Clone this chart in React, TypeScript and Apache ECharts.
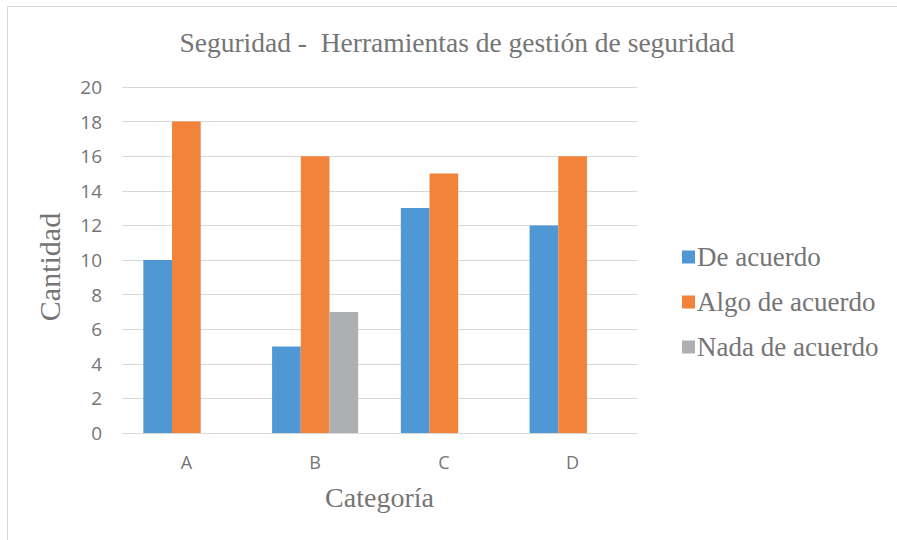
import React, { useEffect, useRef } from "react";
import * as echarts from "echarts";

const categories = ["A", "B", "C", "D"];
const seriesNames = ["De acuerdo", "Algo de acuerdo", "Nada de acuerdo"];
const deAcuerdo = [10, 5, 13, 12];
const algoDeAcuerdo = [18, 16, 15, 16];
const nadaDeAcuerdo = [0, 7, 0, 0];
const colors = ["#5098D5", "#F2833A", "#AEAFB3"];

const serif = "'Liberation Serif', 'Times New Roman', serif";
const sans = "'Open Sans', 'Noto Sans', sans-serif";
const textColor = "#757575";

export default function App() {
  const ref = useRef<HTMLDivElement>(null);
  useEffect(() => {
    if (!ref.current) return;
    const chart = echarts.init(ref.current, undefined, { renderer: "svg" });
    const values = [deAcuerdo, algoDeAcuerdo, nadaDeAcuerdo];
    chart.setOption({
      animation: false,
      backgroundColor: "#ffffff",
      title: {
        text: "Seguridad -  Herramientas de gestión de seguridad",
        left: 452,
        textAlign: "center",
        top: 23,
        textStyle: { fontFamily: serif, fontSize: 27.5, fontWeight: "normal", color: textColor },
      },
      graphic: [
        {
          type: "rect",
          shape: { x: 7.5, y: 6.5, width: 1000, height: 1000 },
          style: { fill: "none", stroke: "#d9d9d9", lineWidth: 1 },
          silent: true,
        },
      ],
      legend: {
        orient: "vertical",
        left: 677,
        top: 237,
        itemWidth: 13,
        itemHeight: 13,
        itemGap: 15,
        icon: "rect",
        data: seriesNames,
        textStyle: { fontFamily: serif, fontSize: 27, color: textColor, padding: [0, 0, 0, -3], lineHeight: 30 },
      },
      grid: { left: 122, right: 260, top: 87, bottom: 107 },
      xAxis: {
        type: "category",
        data: categories,
        name: "Categoría",
        nameLocation: "middle",
        nameGap: 50,
        nameTextStyle: { fontFamily: serif, fontSize: 28, color: textColor },
        axisLine: { lineStyle: { color: "#d9d9d9", width: 1 } },
        axisTick: { show: false },
        axisLabel: { fontFamily: sans, fontSize: 18, color: textColor, margin: 20 },
      },
      yAxis: {
        type: "value",
        min: 0,
        max: 20,
        interval: 2,
        name: "Cantidad",
        nameLocation: "middle",
        nameGap: 58,
        nameTextStyle: { fontFamily: serif, fontSize: 30, color: textColor, padding: [0, 14, 0, 0] },
        axisLine: { show: false },
        axisTick: { show: false },
        axisLabel: { fontFamily: sans, fontSize: 19, color: textColor, margin: 20 },
        splitLine: { lineStyle: { color: "#d9d9d9", width: 1 } },
      },
      series: seriesNames.map((name, i) => ({
        name,
        type: "bar",
        data: values[i],
        barWidth: 28.7,
        barGap: "0%",
        itemStyle: { color: colors[i] },
      })),
    });
    return () => chart.dispose();
  }, []);
  return (
    <div
      ref={ref}
      style={{ position: "fixed", left: 0, top: 0, width: 897, height: 540 }}
    />
  );
}
